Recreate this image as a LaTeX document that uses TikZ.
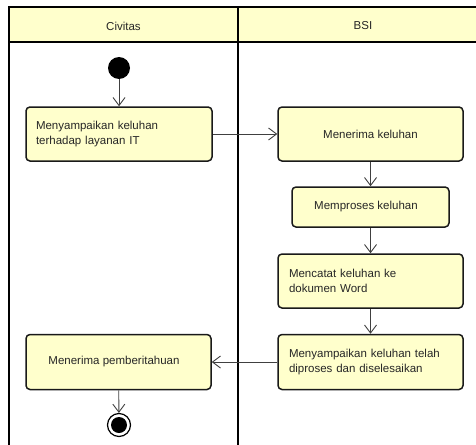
\documentclass[tikz,border=0pt]{standalone}
\usepackage{fontspec}
\setmainfont{Liberation Sans}
\usetikzlibrary{arrows.meta}
\definecolor{laneyellow}{HTML}{FFFFCC}
\definecolor{boxyellow}{HTML}{FFFFCC}
\definecolor{txt}{HTML}{262626}
\definecolor{arrcol}{HTML}{404040}
\tikzset{
  act/.style={draw=black!90, line width=1.5pt, fill=boxyellow, rounded corners=4pt,
    text=txt, font=\fontsize{11.5}{15}\selectfont, inner xsep=0pt, inner ysep=0pt},
  arr/.style={draw=arrcol, line width=0.9pt, -{Straight Barb[length=8pt,width=12pt,line width=0.9pt]}},
  lanetext/.style={text=txt, font=\fontsize{11.5}{14}\selectfont},
}
\begin{document}
\begin{tikzpicture}[x=1pt,y=-1pt]
\useasboundingbox (0,0) rectangle (476,444);
% swimlanes
\fill[laneyellow] (9,7) rectangle (490,42);
\draw[line width=2pt] (9,455) -- (9,7) -- (490,7);
\draw[line width=2pt] (9,42) -- (490,42);
\draw[line width=2pt] (238,7) -- (238,455);
\node[lanetext] (l1) at (123.5,26) {Civitas};
\node[lanetext] (l2) at (363,26) {BSI};
% start
\node[circle, fill=black, minimum size=22pt, inner sep=0pt] (start) at (119,68) {};
% activities
\node[act, minimum width=186pt, minimum height=54pt, text width=166pt, align=left] (b1) at (119,134)
  {Menyampaikan keluhan\\terhadap layanan IT};
\node[act, minimum width=185pt, minimum height=54pt] (b2) at (370.5,134) {Menerima keluhan};
\node[act, minimum width=157pt, minimum height=40pt] (b3) at (370.5,207) {\hspace*{-9pt}Memproses keluhan};
\node[act, minimum width=185pt, minimum height=54pt, text width=163pt, align=left] (b4) at (370.5,281)
  {Mencatat keluhan ke\\dokumen Word};
\node[act, minimum width=185pt, minimum height=55pt, text width=163pt, align=left] (b5) at (370.5,362)
  {Menyampaikan keluhan telah\\diproses dan diselesaikan};
\node[act, minimum width=185pt, minimum height=55pt] (b6) at (118.5,362) {\hspace*{-9pt}Menerima pemberitahuan};
% end
\node[circle, draw=black, line width=1.2pt, fill=white, minimum size=23pt, inner sep=0pt] (end) at (119,425) {};
\fill[black] (end.center) circle (8pt);
% connectors
\draw[arr] (start) -- (b1);
\draw[arr] (b1) -- (b2);
\draw[arr] (b2) -- (b3);
\draw[arr] (b3) -- (b4);
\draw[arr] (b4) -- (b5);
\draw[arr] (b5) -- (b6);
\draw[arr] (b6) -- (end);
\end{tikzpicture}
\end{document}
